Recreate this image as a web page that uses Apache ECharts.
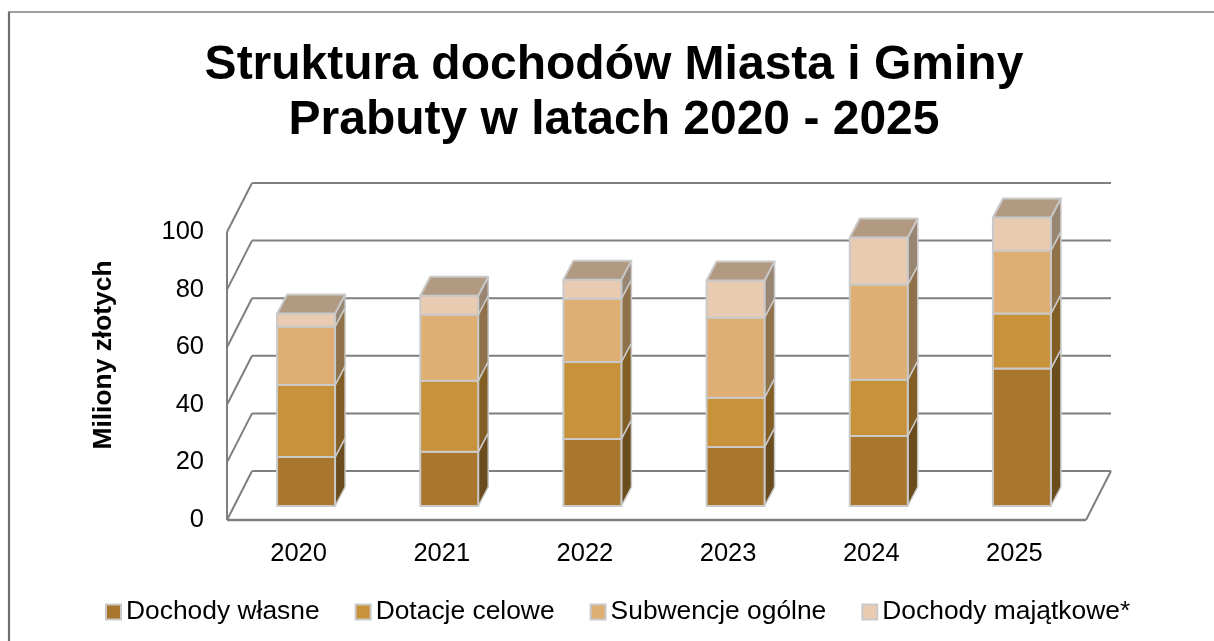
<!DOCTYPE html>
<html><head><meta charset="utf-8">
<style>html,body{margin:0;padding:0;background:#fff}#c{width:1214px;height:641px}</style>
<script src="https://cdn.jsdelivr.net/npm/echarts@6/dist/echarts.min.js"></script>
</head><body><div id="c"></div>
<script>
var categories = ['2020','2021','2022','2023','2024','2025'];
var dochodyWlasne = [17, 18.8, 23.3, 20.5, 24.3, 47.7];
var dotacjeCelowe = [25, 24.7, 26.7, 17.1, 19.5, 19.1];
var subwencjeOgolne = [20.3, 22.9, 22, 27.8, 33.1, 21.9];
var dochodyMajatkowe = [4.5, 6.6, 6.6, 12.9, 16.3, 11.5];
var yTicks = [0, 20, 40, 60, 80, 100];
var titleText = 'Struktura dochodów Miasta i Gminy\nPrabuty w latach 2020 - 2025';
var yName = 'Miliony złotych';

var FONT = '"Liberation Sans", Arial, sans-serif';
var WALL_DX = 25, WALL_DY = 49, BAR_DX = 10, BAR_DY = 19, BAR_RATIO = 0.405;
var LINE = '#7f7f7f', EDGE = '#c9c9c9';

var stacks = [
  {name:'Dochody własne', data:dochodyWlasne, front:'#A8762C', side:'#6B4D1D'},
  {name:'Dotacje celowe', data:dotacjeCelowe, front:'#C8923A', side:'#825E25'},
  {name:'Subwencje ogólne', data:subwencjeOgolne, front:'#DFAE72', side:'#8F714A'},
  {name:'Dochody majątkowe*', data:dochodyMajatkowe, front:'#E9CBB1', side:'#988673', top:'#B29A82'}
];

function poly(points, fill, stroke, w){
  return {type:'polygon', shape:{points:points},
    style:{fill:fill, stroke:stroke, lineWidth:w, lineJoin:'round'}};
}
function line(x1,y1,x2,y2,w){
  return {type:'line', shape:{x1:x1,y1:y1,x2:x2,y2:y2}, style:{stroke:LINE, lineWidth:w||2, fill:null}};
}

var series = [{
  type:'custom', name:'walls', silent:true, z:1, coordinateSystem:'cartesian2d',
  data: yTicks.map(function(v){return [0,v];}),
  renderItem:function(params, api){
    var v = api.value(1);
    var cs = params.coordSys;
    var y = api.coord([0,v])[1];
    var x0 = cs.x, x1 = cs.x + cs.width;
    var kids = [
      line(x0,y,x0+WALL_DX,y-WALL_DY),
      line(x0+WALL_DX,y-WALL_DY,x1+WALL_DX,y-WALL_DY)
    ];
    if (v === 0) {
      kids.push(line(x1,y,x1+WALL_DX,y-WALL_DY));
      kids.push(line(x0,y,x1,y,2.5));
      kids.push(line(x0,y,x0,cs.y,2));
    }
    return {type:'group', children:kids};
  },
  encode:{x:0,y:1}, tooltip:{show:false}
}];

stacks.forEach(function(s, si){
  var rows = categories.map(function(c,i){
    var base = 0;
    for (var k=0;k<si;k++) base += stacks[k].data[i];
    return [i, base, base + s.data[i]];
  });
  series.push({
    type:'custom', name:s.name, z:2+si, coordinateSystem:'cartesian2d',
    itemStyle:{color:s.front, borderColor:EDGE, borderWidth:2},
    data:rows, encode:{x:0,y:2},
    renderItem:function(params, api){
      var i = api.value(0);
      var a = api.coord([i, api.value(1)]);
      var b = api.coord([i, api.value(2)]);
      var w = api.size([1,0])[0]*BAR_RATIO;
      var ox = (WALL_DX-BAR_DX)/2, oy = (WALL_DY-BAR_DY)/2;
      var l = a[0]-w/2+ox, r = l+w, yb = a[1]-oy+1, yt = b[1]-oy+1;
      var kids = [
        poly([[r,yb],[r+BAR_DX,yb-BAR_DY],[r+BAR_DX,yt-BAR_DY],[r,yt]], s.side, EDGE, 1.5),
        poly([[l,yb],[r,yb],[r,yt],[l,yt]], s.front, EDGE, 2)
      ];
      if (s.top) kids.push(poly([[l,yt],[r,yt],[r+BAR_DX,yt-BAR_DY],[l+BAR_DX,yt-BAR_DY]], s.top, EDGE, 2));
      return {type:'group', children:kids};
    }
  });
});

var chart = echarts.init(document.getElementById('c'), null, {renderer:'canvas'});
chart.setOption({
  animation:false, backgroundColor:'#fff',
  graphic:[
    {type:'line', silent:true, z:0, shape:{x1:9,y1:12,x2:9,y2:641}, style:{stroke:'#6e6e6e', lineWidth:2.2}},
    {type:'line', silent:true, z:0, shape:{x1:8,y1:12,x2:1214,y2:12}, style:{stroke:'#7c7c7c', lineWidth:1.6}}
  ],
  title:{text:titleText, left:609, top:33, textAlign:'center',
    textStyle:{fontFamily:FONT, fontSize:48, fontWeight:'bold', color:'#000', lineHeight:55.5}},
  grid:{left:227, right:128, top:232, bottom:121, containLabel:false},
  xAxis:{type:'category', data:categories,
    axisLine:{show:false}, axisTick:{show:false},
    axisLabel:{fontFamily:FONT, fontSize:25.5, color:'#000', margin:21}},
  yAxis:{type:'value', min:0, max:100, interval:20, name:yName, nameLocation:'middle', nameGap:110, nameRotate:90,
    nameTextStyle:{fontFamily:FONT, fontSize:26.4, fontWeight:'bold', color:'#000', padding:[0,0,0,42]},
    axisLine:{show:false}, axisTick:{show:false}, splitLine:{show:false},
    axisLabel:{fontFamily:FONT, fontSize:25.5, color:'#000', margin:23}},
  legend:{data:stacks.map(function(s){return s.name;}), left:100, top:594, icon:'rect',
    itemWidth:15, itemHeight:15, itemGap:35,
    textStyle:{fontFamily:FONT, fontSize:26.4, color:'#000'}},
  series:series
});
</script></body></html>
